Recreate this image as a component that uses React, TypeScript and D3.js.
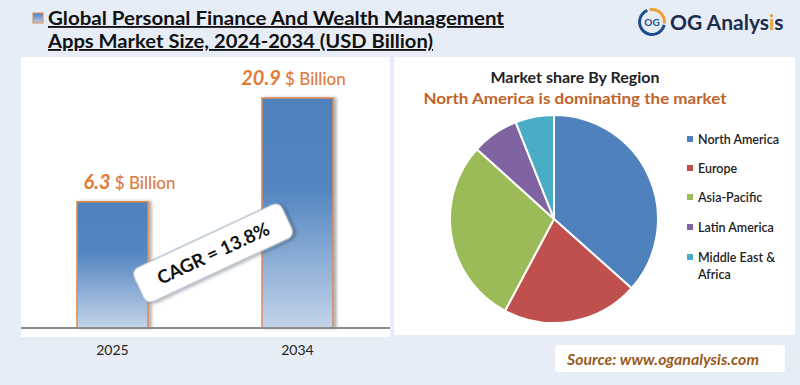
import React, { useEffect } from 'react';
import * as d3 from 'd3';

const years = ['2025', '2034'];
const marketSize = [6.3, 20.9];
const cagrLabel = 'CAGR = 13.8%';

const regions = ['North America', 'Europe', 'Asia-Pacific', 'Latin America', 'Middle East & Africa'];
const regionShare = [36.6, 21.2, 28.9, 7.3, 6.0];
const regionColors = ['#4f81bd', '#c0504d', '#9bbb59', '#8064a2', '#4bacc6'];

const FONT = 'Lato, "Open Sans", sans-serif';

const App: React.FC = () => {
  useEffect(() => {
    document.body.style.margin = '0';
  }, []);

  const axisY = 328;
  const x = d3.scaleBand<string>().domain(years).range([20, 390]).paddingInner(0.616).paddingOuter(0.308);
  const y = d3.scaleSqrt().domain([0, 20.9]).range([axisY, axisY - 230]);

  const pieGen = d3.pie<number>().sort(null).value(d => d);
  const arcs = pieGen(regionShare);
  const arcGen = d3.arc<d3.PieArcDatum<number>>().innerRadius(0).outerRadius(104);
  const cx = 554, cy = 219;

  const legendRows = [140, 169, 198, 228, 258];

  const ringArc = d3.arc();

  return (
    <svg width={800} height={385} style={{ display: 'block', fontFamily: FONT }}>
      <defs>
        <linearGradient id="barGrad" x1="0" y1="0" x2="0" y2="1">
          <stop offset="0%" stopColor="#4f81bd" />
          <stop offset="40%" stopColor="#5386c0" />
          <stop offset="100%" stopColor="#c3d4ea" />
        </linearGradient>
        <linearGradient id="iconGrad" x1="0" y1="0" x2="0" y2="1">
          <stop offset="0%" stopColor="#4f81bd" />
          <stop offset="100%" stopColor="#b9cde6" />
        </linearGradient>
        <filter id="shadow" x="-20%" y="-20%" width="150%" height="150%">
          <feDropShadow dx="2" dy="2" stdDeviation="1.5" floodColor="#000" floodOpacity="0.3" />
        </filter>
        <filter id="barShadow" x="-20%" y="-10%" width="150%" height="120%">
          <feDropShadow dx="3" dy="0" stdDeviation="1.5" floodColor="#000" floodOpacity="0.3" />
        </filter>
      </defs>

      <rect x={0} y={0} width={800} height={385} fill="#e7edf6" />

      {/* title */}
      <rect x={33} y={13} width={10} height={10} fill="url(#iconGrad)" stroke="#e08a50" strokeWidth={1} />
      <text x={48} y={25} fontSize={18.5} fontWeight={700} fill="#111" textDecoration="underline" textLength={456} lengthAdjust="spacingAndGlyphs">
        Global Personal Finance And Wealth Management
      </text>
      <text x={48} y={48} fontSize={18.5} fontWeight={700} fill="#111" textDecoration="underline" textLength={385} lengthAdjust="spacingAndGlyphs">
        Apps Market Size, 2024-2034 (USD Billion)
      </text>

      {/* logo */}
      <g transform="translate(652,22)">
        <path d={ringArc({ innerRadius: 11, outerRadius: 14, startAngle: -0.2, endAngle: 1.7 } as any) || ''} fill="#f0a030" />
        <path d={ringArc({ innerRadius: 11, outerRadius: 14, startAngle: 1.8, endAngle: 5.9 } as any) || ''} fill="#1f4e8c" />
        <text x={0} y={4} textAnchor="middle" fontSize={10} fontWeight={700} fill="#1f4e8c">OG</text>
      </g>
      <text x={670} y={30} fontSize={21} fontWeight={700} fill="#1c2c4c">
        OG Analys<tspan fill="#f0a030">i</tspan>s
      </text>

      {/* left panel */}
      <rect x={21} y={57} width={369} height={280} fill="#fff" />
      {years.map((yr, i) => {
        const bx = x(yr) as number;
        const by = y(marketSize[i]);
        return (
          <g key={yr}>
            <rect x={bx} y={by} width={x.bandwidth()} height={axisY - by} fill="url(#barGrad)"
              stroke="#e08a50" strokeWidth={1.5} filter="url(#barShadow)" />
            <text x={bx + x.bandwidth() / 2 + (i === 0 ? 17 : -4)} y={by - 13} textAnchor="middle" fill="#e07b39">
              <tspan fontSize={20} fontWeight={700} fontStyle="italic">{marketSize[i]}</tspan>
              <tspan fontSize={17} fontWeight={500}> $ Billion</tspan>
            </text>
            <text x={bx + x.bandwidth() / 2} y={355} textAnchor="middle" fontSize={14} fill="#222">{yr}</text>
          </g>
        );
      })}
      <line x1={21} x2={390} y1={axisY} y2={axisY} stroke="#8c8c8c" strokeWidth={2} />

      <g transform="translate(213,253) rotate(-25)">
        <rect x={-82} y={-19} width={164} height={38} rx={8} fill="#fff" stroke="#8fa5bf" strokeWidth={1} filter="url(#shadow)" />
        <text x={0} y={7} textAnchor="middle" fontSize={18.5} fontWeight={700} fill="#111">{cagrLabel}</text>
      </g>

      {/* right panel */}
      <rect x={394} y={57} width={401} height={278} fill="#fff" />
      <text x={575} y={83} textAnchor="middle" fontSize={16} fontWeight={700} fill="#222">Market share By Region</text>
      <text x={575} y={104} textAnchor="middle" fontSize={16} fontWeight={700} fill="#c0642a" textLength={303} lengthAdjust="spacingAndGlyphs">
        North America is dominating the market
      </text>
      <g transform={`translate(${cx},${cy})`}>
        {arcs.map((a, i) => (
          <path key={regions[i]} d={arcGen(a) || ''} fill={regionColors[i]} stroke="#fff" strokeWidth={2} />
        ))}
      </g>
      {regions.map((r, i) => {
        const ly = legendRows[i];
        const words = r === 'Middle East & Africa' ? ['Middle East &', 'Africa'] : [r];
        return (
          <g key={r}>
            <rect x={687} y={ly - 4} width={6} height={6} fill={regionColors[i]} />
            <text x={698} y={ly + 4} fontSize={12.5} fontWeight={600} fill="#222">
              {words.map((w, j) => (
                <tspan key={w} x={698} dy={j === 0 ? 0 : 17}>{w}</tspan>
              ))}
            </text>
          </g>
        );
      })}

      {/* source */}
      <rect x={555} y={345} width={230} height={27} rx={4} fill="#fff" />
      <text x={567} y={365} fontSize={14.5} fontWeight={700} fontStyle="italic" fill="#9c5a1c" textLength={192} lengthAdjust="spacingAndGlyphs">
        Source: www.oganalysis.com
      </text>
    </svg>
  );
};

export default App;
